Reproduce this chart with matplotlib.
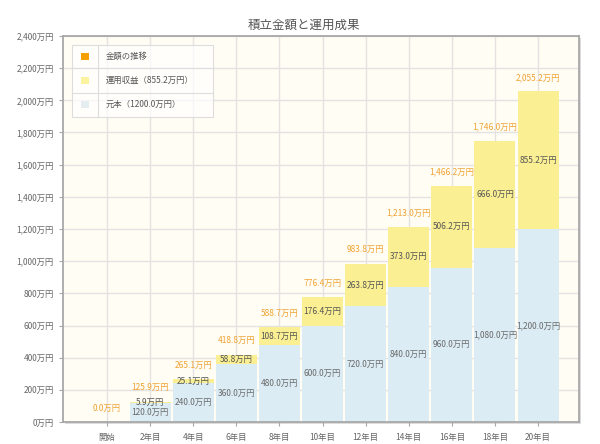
import matplotlib
matplotlib.use("Agg")
import matplotlib.pyplot as plt
from matplotlib.patches import Rectangle

plt.rcParams['font.family'] = ['Noto Sans CJK JP', 'DejaVu Sans']

# データ
categories = ["開始", "2年目", "4年目", "6年目", "8年目", "10年目",
              "12年目", "14年目", "16年目", "18年目", "20年目"]
principal = [0, 120, 240, 360, 480, 600, 720, 840, 960, 1080, 1200]
gains = [0, 5.9, 25.1, 58.8, 108.7, 176.4, 263.8, 373.0, 506.2, 666.0, 855.2]
totals = [0.0, 125.9, 265.1, 418.8, 588.7, 776.4, 983.8, 1213.0, 1466.2, 1746.0, 2055.2]

c_blue = "#dbecf4"
c_yellow = "#fbef93"
c_orange = "#f0a232"
c_grid = "#e3e3e3"

W, H = 600, 444
fig = plt.figure(figsize=(6, 4.44), dpi=100)
fig.patch.set_facecolor("white")

# 影
fig.patches.append(Rectangle((65 / W, (H - 424) / H), 516 / W, 386 / H,
                             transform=fig.transFigure, facecolor="#dcdcdc",
                             edgecolor="none", zorder=0))

ax = fig.add_axes([63 / W, (H - 422) / H, 516 / W, 386 / H])
ax.set_zorder(2)
ax.set_facecolor("#fffdf4")

x = list(range(len(categories)))
w = 0.95
ax.bar(x, principal, width=w, color=c_blue, zorder=2)
ax.bar(x, gains, width=w, bottom=principal, color=c_yellow, zorder=2)

ax.set_xlim(-1.02, 10.95)
ax.set_ylim(0, 2400)
ax.set_yticks(range(0, 2401, 200))
ax.set_yticklabels([f"{v:,}万円" for v in range(0, 2401, 200)])
ax.set_xticks(x)
ax.set_xticklabels(categories)
ax.grid(True, color=c_grid, lw=1, zorder=1)
ax.set_axisbelow(True)

for s in ax.spines.values():
    s.set_color("#a8a8a8")
    s.set_linewidth(1.3)
ax.tick_params(axis="both", colors="#a8a8a8", labelcolor="#666666",
               labelsize=6, length=3, width=0.8)
ax.tick_params(axis="x", pad=5)

# ラベル
for i in x:
    p, g, t = principal[i], gains[i], totals[i]
    if p > 0:
        ax.text(i, p / 2, f"{p:,.1f}万円", ha="center", va="center",
                fontsize=6, color="#6a6a6a", zorder=3)
    if g > 0:
        ax.text(i, p + g / 2, f"{g:,.1f}万円", ha="center", va="center",
                fontsize=6, color="#555555", zorder=3)
    ax.annotate(f"{t:,.1f}万円", (i, t), xytext=(0, 10),
                textcoords="offset points", ha="center", va="center",
                fontsize=6, color=c_orange, zorder=3)

fig.text(304 / W, (H - 25) / H, "積立金額と運用成果", ha="center", va="center",
         fontsize=9, color="#555555")

# 凡例（表形式）
lx, ly, lw_, lh = 72, 45, 141, 72
lg = fig.add_axes([(lx - 2) / W, (H - ly - lh - 2) / H, (lw_ + 4) / W, (lh + 4) / H])
lg.set_zorder(3)
lg.set_xlim(-2, lw_ + 2)
lg.set_ylim(lh + 2, -2)
lg.axis("off")
lg.add_patch(Rectangle((0, 0), lw_, lh, facecolor="white", alpha=0.7,
                       edgecolor="none"))
lg.add_patch(Rectangle((0, 0), lw_, lh, facecolor="none",
                       edgecolor="#dddddd", lw=0.8))
lg.plot([26, 26], [0, lh], color="#dddddd", lw=0.8)
for yy in (23, 48):
    lg.plot([0, lw_], [yy, yy], color="#dddddd", lw=0.8)

legend_items = [("#f59f00", "金額の推移"),
                ("#fcf3a0", f"運用収益（{gains[-1]:.1f}万円）"),
                ("#e4eef0", f"元本（{principal[-1]:.1f}万円）")]
for (col, lab), cy in zip(legend_items, (11.5, 35.5, 59.5)):
    lg.add_patch(Rectangle((9, cy - 3.5), 8, 7, facecolor=col, edgecolor="none"))
    lg.text(34, cy, lab, ha="left", va="center", fontsize=6, color="#555555")

plt.savefig("out.png", dpi=100)
